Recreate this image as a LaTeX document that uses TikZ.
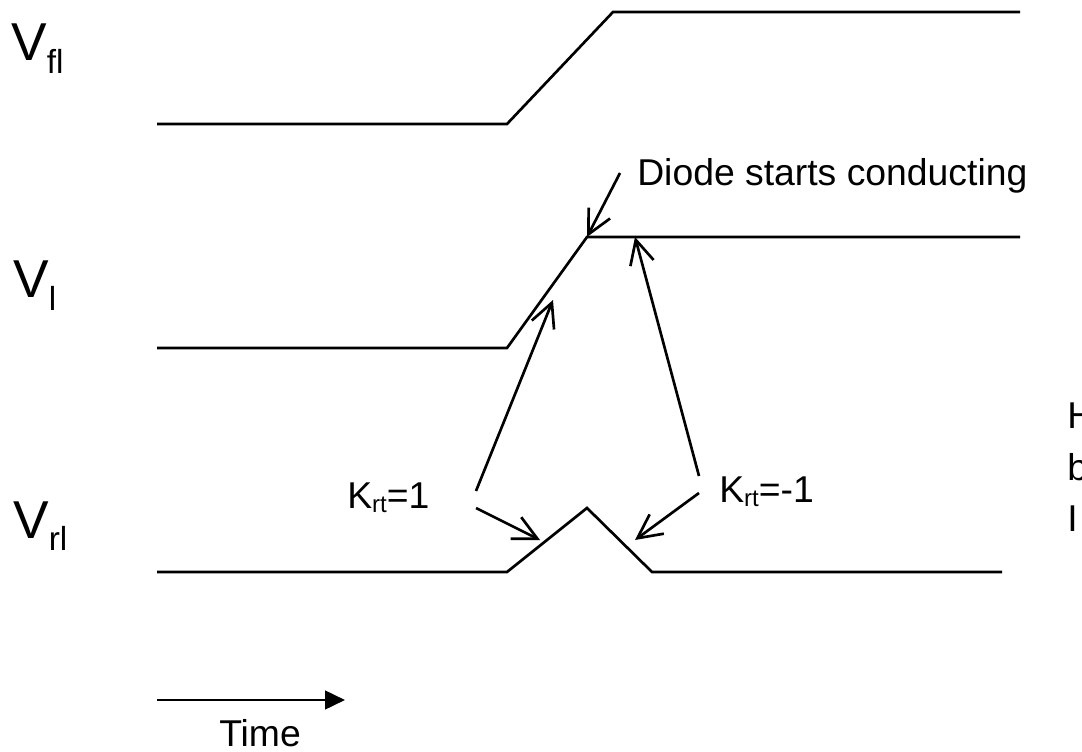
\documentclass[tikz,border=0pt]{standalone}
\usepackage{fontspec}
\setmainfont{Liberation Sans}
\usetikzlibrary{arrows.meta}
\newcommand{\vlab}[1]{{\fontsize{40}{40}\selectfont V}\raisebox{-9.5pt}{\fontsize{25}{25}\selectfont #1}}
\newcommand{\klab}[1]{K\raisebox{-3pt}{\fontsize{18}{18}\selectfont rt}#1}
\begin{document}
\begin{tikzpicture}[x=0.75pt,y=-0.75pt,
  wave/.style={line width=2pt,line join=miter},
  pointer/.style={line width=2pt,-{Straight Barb[length=18pt,width=18pt,line width=2pt]}},
  timearrow/.style={line width=2pt,-{Triangle[length=15pt,width=14pt]}},
  txt/.style={anchor=base west,inner sep=0pt,font=\fontsize{28}{28}\selectfont}]
\useasboundingbox (0,0) rectangle (1082,752);
\clip (0,0) rectangle (1082,752);
% labels
\node[txt] (vfl) at (11,61) {\vlab{fl}};
\node[txt] (vl) at (13,298) {\vlab{l}};
\node[txt] (vrl) at (13,538) {\vlab{rl}};
\node[txt] (diode) at (637,186) {Diode starts conducting};
\node[txt] (k1) at (347,508) {\klab{=1}};
\node[txt] (k2) at (719,502) {\klab{=-1}};
\node[txt] (time) at (219,746) {Time};
\node[txt] (h1) at (1067,428) {H};
\node[txt] (h2) at (1067,480) {b};
\node[txt] (h3) at (1067,531) {I};
% waveform points
\coordinate (a0) at (157,124); \coordinate (a1) at (507,124);
\coordinate (a2) at (613,12);  \coordinate (a3) at (1020,12);
\coordinate (b0) at (157,348); \coordinate (b1) at (507,348);
\coordinate (b2) at (587,237); \coordinate (b3) at (1020,237);
\coordinate (c0) at (157,572); \coordinate (c1) at (507,572);
\coordinate (c2) at (587,508); \coordinate (c3) at (652,572);
\coordinate (c4) at (1002,572);
\draw[wave] (a0) -- (a1) -- (a2) -- (a3);
\draw[wave] (b0) -- (b1) -- (b2) -- (b3);
\draw[wave] (c0) -- (c1) -- (c2) -- (c3) -- (c4);
% pointer arrows
\coordinate (ds) at (620,173);
\coordinate (k1a) at (476,491); \coordinate (k1at) at (553,300);
\coordinate (k1b) at (476,508); \coordinate (k1bt) at (540,540);
\coordinate (k2a) at (699,476); \coordinate (k2at) at (635,237);
\coordinate (k2b) at (699,493); \coordinate (k2bt) at (635,540);
\draw[pointer] (ds) -- (b2);
\draw[pointer] (k1a) -- (k1at);
\draw[pointer] (k1b) -- (k1bt);
\draw[pointer] (k2a) -- (k2at);
\draw[pointer] (k2b) -- (k2bt);
% time arrow
\coordinate (t0) at (157,700); \coordinate (t1) at (345,700);
\draw[timearrow] (t0) -- (t1);
\end{tikzpicture}
\end{document}
